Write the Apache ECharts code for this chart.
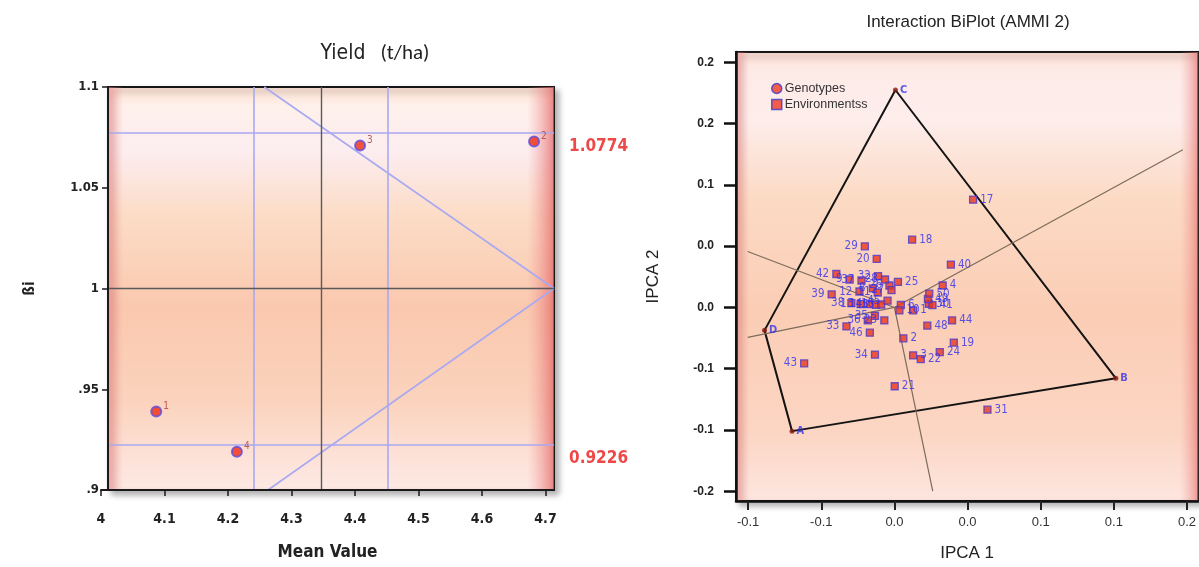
<!DOCTYPE html>
<html>
<head>
<meta charset="utf-8">
<script src="https://cdn.jsdelivr.net/npm/echarts@6/dist/echarts.min.js"></script>
<style>
    html, body { margin: 0; padding: 0; background: #fff; }
    #chart { width: 1199px; height: 567px; }
</style>
</head>
<body>
<div id="chart"></div>
<script>
// ---- left panel: mean yield vs regression coefficient ----
const genoNo = ['1', '2', '3', '4'];
const meanYield = [4.087, 4.682, 4.408, 4.214];
const betaI = [0.939, 1.073, 1.071, 0.919];
const yieldTicks = [4, 4.1, 4.2, 4.3, 4.4, 4.5, 4.6, 4.7];
const yieldTickLabels = ['4', '4.1', '4.2', '4.3', '4.4', '4.5', '4.6', '4.7'];
const betaTicks = [0.9, 0.95, 1, 1.05, 1.1];
const betaTickLabels = ['.9', '.95', '1', '1.05', '1.1'];
const grandMean = 4.3465;
const meanBand = [4.241, 4.452];
const betaLimits = [1.0774, 0.9226];
const funnelTop = [[4.257, 1.1], [4.7134, 1.0]];
const funnelBottom = [[4.7134, 1.0], [4.263, 0.9]];

// ---- right panel: AMMI2 biplot ----
const genoNames = ['A', 'B', 'C', 'D'];
const genoX = [-0.070, 0.1514, 0.0007, -0.0888];
const genoY = [-0.1009, -0.0578, 0.1774, -0.0187];
const hullOrder = ['C', 'B', 'A', 'D', 'C'];
const rayX = [0.1972, -0.1003, -0.1003, 0.0262];
const rayY = [0.1286, 0.0456, -0.0244, -0.1498];
const envNames = ['1', '2', '3', '4', '6', '8', '9', '10', '11', '12', '13', '14', '15', '16', '17', '18', '19', '20',
    '21', '22', '23', '24', '25', '26', '27', '28', '29', '30', '31', '32', '33', '34', '35', '36', '37', '38', '39',
    '40', '41', '42', '43', '44', '45', '46', '48', '49', '50'];
const envX = [0.0128, 0.0061, 0.0128, 0.0330, 0.0044, -0.0148, -0.0306, 0.0034, -0.0114, -0.0239, -0.0231, -0.0170,
    -0.0126, -0.0090, 0.0538, 0.0121, 0.0406, -0.0121, 0.0002, 0.0180, -0.0069, 0.0310, 0.0024, -0.0034, -0.0020,
    -0.0064, -0.0202, 0.0236, 0.0636, -0.0112, -0.0328, -0.0133, -0.0133, -0.0182, -0.0225, -0.0294, -0.0429,
    0.0386, 0.0260, -0.0397, -0.0617, 0.0394, -0.0047, -0.0168, 0.0225, 0.0229, 0.0238];
const envY = [-0.0024, -0.0252, -0.0391, 0.0179, 0.0020, 0.0155, 0.0228, -0.0024, 0.0122, 0.0130, 0.0027, 0.0027,
    0.0022, 0.0024, 0.0879, 0.0553, -0.0287, 0.0396, -0.0643, -0.0421, -0.0106, -0.0364, 0.0208, 0.0179, 0.0142,
    0.0228, 0.0499, 0.0030, -0.0834, 0.0255, -0.0155, -0.0385, -0.0068, -0.0106, 0.0220, 0.0035, 0.0106,
    0.0350, 0.0019, 0.0273, -0.0456, -0.0106, 0.0055, -0.0206, -0.0149, 0.0069, 0.0112];
const ipca1Ticks = [-0.1, -0.05, 0, 0.05, 0.1, 0.15, 0.2];
const ipca1TickLabels = ['-0.1', '-0.1', '0.0', '0.0', '0.1', '0.1', '0.2'];
const ipca2Ticks = [-0.15, -0.1, -0.05, 0, 0.05, 0.1, 0.15, 0.2];
const ipca2TickLabels = ['-0.2', '-0.1', '-0.1', '0.0', '0.0', '0.1', '0.2', '0.2'];

const narrow = "'Liberation Sans Narrow', 'DejaVu Sans Condensed', sans-serif";
const arial = "'Liberation Sans', Arial, sans-serif";

function pick(ticks, labels) {
    return function (v) {
        for (let i = 0; i < ticks.length; i++) {
            if (Math.abs(v - ticks[i]) < 1e-6) return labels[i];
        }
        return '';
    };
}

const LG = echarts.graphic.LinearGradient;
// axis extents (frame edges)
const lx = [4, 4.7134], lFrameX = 4.011, ly = [0.9, 1.1];
const rx = [-0.1083, 0.2077], ry = [-0.1579, 0.2084];

function frame(xr, yr, bg, edges, xi) {
    return [{
        type: 'scatter', xAxisIndex: xi, yAxisIndex: xi, data: [], silent: true, z: 1,
        markArea: {
            silent: true,
            itemStyle: {
                color: bg, borderColor: '#161616', borderWidth: 2,
                shadowColor: 'rgba(0,0,0,0.3)', shadowBlur: 6, shadowOffsetX: 4, shadowOffsetY: 4
            },
            data: [[{ coord: [xr[0], yr[0]] }, { coord: [xr[1], yr[1]] }]]
        }
    }, {
        type: 'scatter', xAxisIndex: xi, yAxisIndex: xi, data: [], silent: true, z: 1,
        markArea: {
            silent: true,
            itemStyle: { color: edges },
            data: [[{ coord: [xr[0], yr[0]] }, { coord: [xr[1], yr[1]] }]]
        }
    }];
}

const leftBg = new LG(0, 0, 0, 1, [
    { offset: 0, color: '#fde0d2' }, { offset: 0.05, color: '#fef0ea' }, { offset: 0.16, color: '#fcedf0' },
    { offset: 0.32, color: '#fcdcc6' }, { offset: 0.55, color: '#fac8ae' }, { offset: 0.78, color: '#fbd3bd' },
    { offset: 0.93, color: '#fde3da' }, { offset: 1, color: '#fde9e4' }]);
const leftEdges = new LG(0, 0, 1, 0, [
    { offset: 0, color: 'rgba(236,120,120,0.55)' }, { offset: 0.035, color: 'rgba(240,150,150,0)' },
    { offset: 0.94, color: 'rgba(240,150,150,0)' }, { offset: 1, color: 'rgba(228,100,100,0.75)' }]);
const rightBg = new LG(0, 0, 0, 1, [
    { offset: 0, color: '#fde0d6' }, { offset: 0.05, color: '#fdebe8' }, { offset: 0.15, color: '#fdedeb' },
    { offset: 0.33, color: '#fcdac4' }, { offset: 0.58, color: '#fbcdb5' }, { offset: 0.85, color: '#fcd6c4' },
    { offset: 1, color: '#fde6e0' }]);
const rightEdges = new LG(0, 0, 1, 0, [
    { offset: 0, color: 'rgba(236,120,120,0.5)' }, { offset: 0.03, color: 'rgba(240,150,150,0)' },
    { offset: 0.96, color: 'rgba(240,150,150,0)' }, { offset: 1, color: 'rgba(228,100,100,0.6)' }]);

const blueLine = { color: '#a9a9f2', width: 1.6, type: 'solid' };
const darkLine = { color: '#5a5a5a', width: 1.4, type: 'solid' };

const leftLines = [
    [{ coord: [lFrameX, betaLimits[0]], lineStyle: blueLine }, { coord: [lx[1], betaLimits[0]] }],
    [{ coord: [lFrameX, betaLimits[1]], lineStyle: blueLine }, { coord: [lx[1], betaLimits[1]] }],
    [{ coord: [meanBand[0], ly[0]], lineStyle: blueLine }, { coord: [meanBand[0], ly[1]] }],
    [{ coord: [meanBand[1], ly[0]], lineStyle: blueLine }, { coord: [meanBand[1], ly[1]] }],
    [{ coord: funnelTop[0], lineStyle: blueLine }, { coord: funnelTop[1] }],
    [{ coord: funnelBottom[0], lineStyle: blueLine }, { coord: funnelBottom[1] }],
    [{ coord: [grandMean, ly[0]], lineStyle: darkLine }, { coord: [grandMean, ly[1]] }],
    [{ coord: [lFrameX, 1], lineStyle: darkLine }, { coord: [lx[1], 1] }]
];

const limitLabels = betaLimits.map(function (v) {
    return {
        type: 'scatter', xAxisIndex: 0, yAxisIndex: 0, silent: true, symbolSize: 0, z: 6,
        data: [[lx[1], v]],
        label: {
            show: true, position: 'right', distance: 15, offset: [0, 14],
            formatter: v.toFixed(4), color: '#ea1a1a', fontFamily: narrow, fontWeight: 'bold', fontSize: 17
        }
    };
});

const rays = rayX.map(function (x, i) {
    return [{ coord: [0, 0] }, { coord: [x, rayY[i]] }];
});

const hull = hullOrder.map(function (n) {
    const i = genoNames.indexOf(n);
    return [genoX[i], genoY[i]];
});

const chart = echarts.init(document.getElementById('chart'));
chart.setOption({
    animation: false,
    title: [{
        text: '{a|Yield}   {b|(t/ha)}', left: 370, top: 38, textAlign: 'center',
        textStyle: {
            rich: {
                a: { fontFamily: narrow, fontSize: 21, fontWeight: 'normal', color: '#222' },
                b: { fontFamily: "'Carlito', 'Open Sans', sans-serif", fontSize: 21, fontWeight: 'normal', color: '#222' }
            }
        }
    }, {
        text: 'Interaction BiPlot (AMMI 2)', left: 963, top: 9, textAlign: 'center',
        textStyle: { fontFamily: arial, fontSize: 17, fontWeight: 'normal', color: '#222' }
    }],
    legend: {
        left: 766, top: 77, orient: 'vertical', itemWidth: 10, itemHeight: 10, itemGap: 3,
        selectedMode: false,
        textStyle: { fontFamily: arial, fontSize: 12.5, color: '#333', padding: [0, 0, 0, -2] },
        data: [
            { name: 'Genotypes', icon: 'circle', itemStyle: { color: '#ee3a22', borderColor: '#3a3ad0', borderWidth: 1.5 } },
            { name: 'Environmentss', icon: 'rect', itemStyle: { color: '#ee3a22', borderColor: '#3a3ad0', borderWidth: 1.5 } }
        ]
    },
    grid: [
        { left: 101, right: 645, top: 87, bottom: 77 },
        { left: 736, right: -7, top: 52, bottom: 65 }
    ],
    xAxis: [{
        gridIndex: 0, type: 'value', min: lx[0], max: lx[1], z: 10,
        name: 'Mean Value', nameLocation: 'middle', nameGap: 54,
        nameTextStyle: { fontFamily: narrow, fontWeight: 'bold', fontSize: 17, color: '#222' },
        axisLine: { onZero: false, lineStyle: { color: '#1a1a1a', width: 2 } },
        axisTick: { customValues: yieldTicks, length: 6, lineStyle: { color: '#1a1a1a', width: 1.5 } },
        axisLabel: {
            customValues: yieldTicks, formatter: pick(yieldTicks, yieldTickLabels), margin: 22,
            fontFamily: narrow, fontWeight: 'bold', fontSize: 14, color: '#222'
        },
        splitLine: { show: false }
    }, {
        gridIndex: 1, type: 'value', min: rx[0], max: rx[1], z: 10,
        name: 'IPCA 1', nameLocation: 'middle', nameGap: 44,
        nameTextStyle: { fontFamily: arial, fontSize: 17, color: '#222' },
        axisLine: { onZero: false, lineStyle: { color: '#111', width: 2.5 } },
        axisTick: { customValues: ipca1Ticks, length: 9, lineStyle: { color: '#222', width: 2 } },
        axisLabel: {
            customValues: ipca1Ticks, formatter: pick(ipca1Ticks, ipca1TickLabels), margin: 15,
            fontFamily: arial, fontSize: 13, color: '#333'
        },
        splitLine: { show: false }
    }],
    yAxis: [{
        gridIndex: 0, type: 'value', min: ly[0], max: ly[1], z: 10, offset: -7,
        name: 'ßi', nameLocation: 'middle', nameGap: 70, nameRotate: 90,
        nameTextStyle: { fontFamily: narrow, fontWeight: 'bold', fontSize: 15, color: '#222' },
        axisLine: { onZero: false, lineStyle: { color: '#1a1a1a', width: 2 } },
        axisTick: { customValues: betaTicks, length: 6, lineStyle: { color: '#1a1a1a', width: 1.5 } },
        axisLabel: {
            customValues: betaTicks, formatter: pick(betaTicks, betaTickLabels), margin: 9,
            fontFamily: narrow, fontWeight: 'bold', fontSize: 13, color: '#222'
        },
        splitLine: { show: false }
    }, {
        gridIndex: 1, type: 'value', min: ry[0], max: ry[1], z: 10,
        name: 'IPCA 2', nameLocation: 'middle', nameGap: 74, nameRotate: 90,
        nameTextStyle: { fontFamily: arial, fontSize: 17, color: '#222' },
        axisLine: { onZero: false, lineStyle: { color: '#111', width: 2.5 } },
        axisTick: { customValues: ipca2Ticks, length: 12, lineStyle: { color: '#111', width: 2.5 } },
        axisLabel: {
            customValues: ipca2Ticks, formatter: pick(ipca2Ticks, ipca2TickLabels), margin: 22,
            fontFamily: arial, fontWeight: 'bold', fontSize: 12, color: '#222'
        },
        splitLine: { show: false }
    }],
    series: [].concat(
        frame([lFrameX, lx[1]], ly, leftBg, leftEdges, 0),
        frame(rx, ry, rightBg, rightEdges, 1),
        [{
            // reference lines of the left panel
            type: 'scatter', xAxisIndex: 0, yAxisIndex: 0, data: [], silent: true, z: 3,
            markLine: { silent: true, symbol: ['none', 'none'], label: { show: false }, data: leftLines }
        }, {
            type: 'scatter', xAxisIndex: 0, yAxisIndex: 0, z: 5,
            symbolSize: 10,
            itemStyle: { color: '#f02a10', borderColor: '#5a4ee0', borderWidth: 2 },
            label: {
                show: true, position: 'right', distance: 1, offset: [0, -5],
                formatter: '{b}', fontFamily: narrow, fontSize: 10, color: '#b03a3a'
            },
            data: genoNo.map(function (n, i) { return { name: n, value: [meanYield[i], betaI[i]] }; })
        }],
        limitLabels,
        [{
            // sector rays of the biplot
            type: 'scatter', xAxisIndex: 1, yAxisIndex: 1, data: [], silent: true, z: 3,
            markLine: {
                silent: true, symbol: ['none', 'none'], label: { show: false },
                lineStyle: { color: '#7d6b5b', width: 1.2, type: 'solid' }, data: rays
            }
        }, {
            type: 'line', xAxisIndex: 1, yAxisIndex: 1, z: 4, silent: true,
            showSymbol: false, lineStyle: { color: '#141414', width: 2 }, data: hull
        }, {
            name: 'Environmentss', type: 'scatter', xAxisIndex: 1, yAxisIndex: 1, z: 5,
            symbol: 'rect', symbolSize: 7,
            itemStyle: { color: '#e8351e', borderColor: '#4a3ad0', borderWidth: 1.3 },
            label: { show: true, formatter: '{b}', fontFamily: narrow, fontSize: 11.5, color: '#2e2ef0', distance: 3 },
            data: envNames.map(function (n, i) {
                return { name: n, value: [envX[i], envY[i]], label: { position: envX[i] < 0 ? 'left' : 'right' } };
            })
        }, {
            name: 'Genotypes', type: 'scatter', xAxisIndex: 1, yAxisIndex: 1, z: 6,
            symbolSize: 5, itemStyle: { color: '#8a1a10' },
            label: {
                show: true, position: 'right', distance: 2, formatter: '{b}',
                fontFamily: narrow, fontSize: 11, fontWeight: 'bold', color: '#3434e8'
            },
            data: genoNames.map(function (n, i) { return { name: n, value: [genoX[i], genoY[i]] }; })
        }]
    )
});
</script>
</body>
</html>
